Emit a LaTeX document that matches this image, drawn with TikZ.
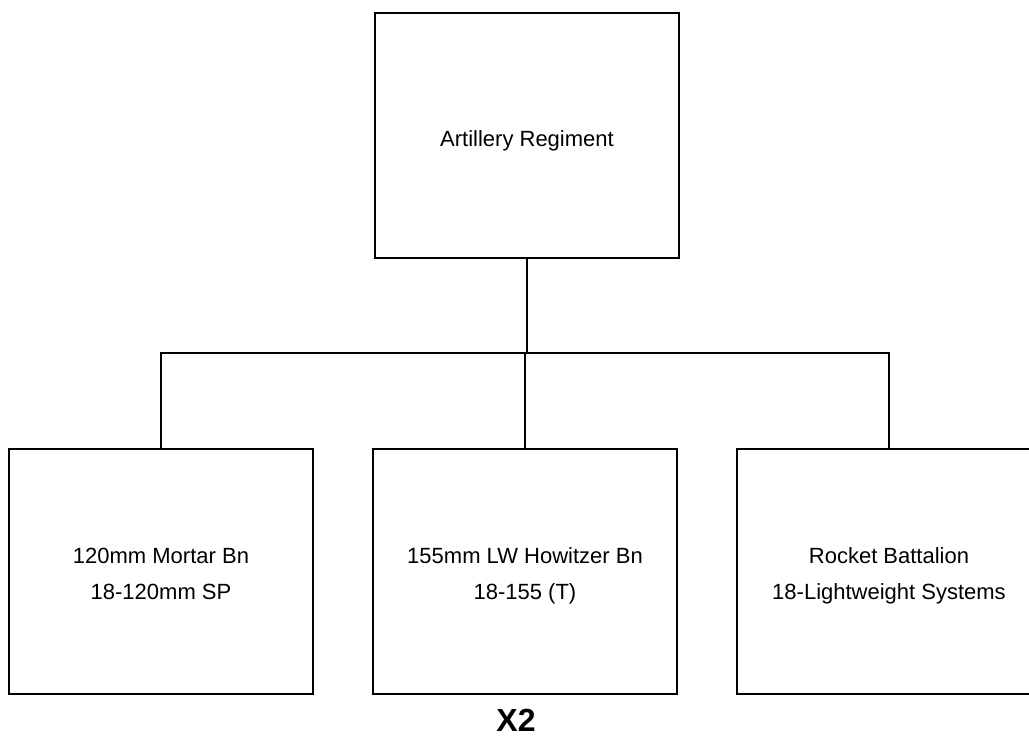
\documentclass[tikz,border=0pt]{standalone}
\usepackage{fontspec}
\setmainfont{Liberation Sans}
\newcommand{\toprule}{\rule{0pt}{31pt}}
\begin{document}
\begin{tikzpicture}[x=1pt,y=-1pt,
  orgbox/.style={draw, line width=1.6pt, minimum width=304pt, minimum height=245pt,
    inner sep=0pt, align=center, font=\fontsize{22}{36}\selectfont},
  link/.style={line width=1.6pt}]
\useasboundingbox (0,0) rectangle (1029,736);
\clip (0,0) rectangle (1029,736);
\fill[white] (0,0) rectangle (1029,736);
\node[orgbox] (top) at (527,135.5) {\rule{0pt}{26pt}Artillery Regiment};
\node[orgbox] (left) at (161,571.5) {\toprule 120mm Mortar Bn\\\strut 18-120mm SP};
\node[orgbox] (mid) at (525,571.5) {\toprule 155mm LW Howitzer Bn\\\strut 18-155 (T)};
\node[orgbox] (right) at (889,571.5) {\toprule Rocket Battalion\\\strut 18-Lightweight Systems};
\node[inner sep=0pt, font=\fontsize{32}{32}\selectfont\bfseries] (x2) at (516,720) {X2};
\coordinate (bus) at (526,353);
\draw[link] (top.south) -- (top.south |- bus);
\draw[link] (left.north) -- (left.north |- bus) -| (right.north);
\draw[link] (mid.north) -- (mid.north |- bus);
\end{tikzpicture}
\end{document}
